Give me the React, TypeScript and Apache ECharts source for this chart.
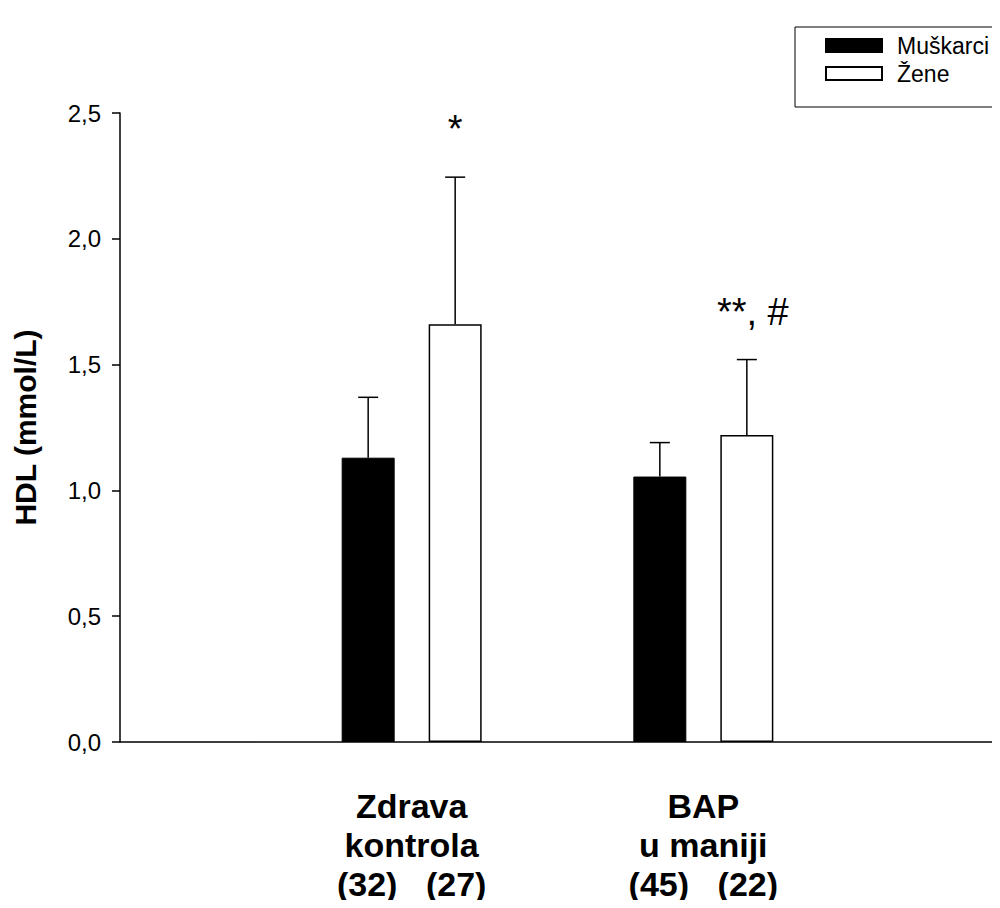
import React, { useEffect, useRef } from "react";
import * as echarts from "echarts";

// ---- data ----
const categories = ["", "Zdrava kontrola", "BAP u maniji", ""];
const groupLines = [["Zdrava", "kontrola"], ["BAP", "u maniji"]];
const nMen = [32, 45];
const nWomen = [27, 22];
const menMean = [1.13, 1.055];
const menSD = [0.24, 0.135];
const womenMean = [1.66, 1.22];
const womenSD = [0.585, 0.3];
const menNotes = ["", ""];
const womenNotes = ["*", "**, #"];
const seriesNames = ["Muškarci", "Žene"];
const yMin = 0;
const yMax = 2.5;
const yInterval = 0.5;

const FONT = "'Liberation Sans', Arial, Helvetica, sans-serif";
const BAR_W = 53;
const BAR_GAP = 34;

export default function App() {
  const ref = useRef<HTMLDivElement>(null);
  useEffect(() => {
    if (!ref.current) return;
    const chart = echarts.init(ref.current, undefined, { renderer: "svg" });
    const pad = (arr: number[]) => ["-", ...arr, "-"];
    const offset = (BAR_W + BAR_GAP) / 2;

    const errSeries = (
      means: number[],
      sds: number[],
      notes: string[],
      dir: number
    ) => ({
      type: "custom",
      silent: true,
      z: 5,
      clip: false,
      data: means.map((m, i) => [i + 1, m, sds[i]]),
      renderItem: (params: any, api: any) => {
        const idx = api.value(0);
        const m = api.value(1);
        const sd = api.value(2);
        const b = api.coord([idx, m]);
        const t = api.coord([idx, m + sd]);
        const x = b[0] + dir * offset;
        const note = notes[params.dataIndex];
        const children: any[] = [
          {
            type: "line",
            shape: { x1: x, y1: b[1], x2: x, y2: t[1] },
            style: { stroke: "#000", lineWidth: 1.5 },
          },
          {
            type: "line",
            shape: { x1: x - 10, y1: t[1], x2: x + 10, y2: t[1] },
            style: { stroke: "#000", lineWidth: 1.5 },
          },
        ];
        if (note) {
          children.push({
            type: "text",
            x: x + (note.length > 1 ? 6 : 0),
            y: t[1] - 29,
            style: {
              text: note,
              fontSize: 38,
              fontFamily: FONT,
              fill: "#000",
              align: "center",
              verticalAlign: "bottom",
            },
          });
        }
        return { type: "group", children };
      },
    });

    chart.setOption({
      animation: false,
      backgroundColor: "#fff",
      grid: { left: 120, right: 5, top: 113, bottom: 166 },
      legend: {
        data: seriesNames,
        orient: "vertical",
        left: 795,
        top: 27,
        icon: "rect",
        itemWidth: 56,
        itemHeight: 13,
        itemGap: 5,
        padding: [7, 6, 22, 30],
        borderColor: "#000",
        borderWidth: 1,
        selectedMode: false,
        textStyle: {
          fontSize: 23,
          lineHeight: 22,
          fontFamily: FONT,
          color: "#000",
          padding: [0, 0, 0, 10],
        },
      },
      xAxis: {
        type: "category",
        data: categories,
        boundaryGap: false,
        axisLine: { lineStyle: { color: "#000", width: 1.5 } },
        axisTick: { show: false },
        axisLabel: {
          interval: 0,
          margin: 44,
          formatter: (_v: string, i: number) => {
            const g = i - 1;
            if (g < 0 || g >= groupLines.length) return "";
            return (
              groupLines[g].map((l) => `{t|${l}}`).join("\n") +
              `\n{n|(${nMen[g]})}{n|(${nWomen[g]})}`
            );
          },
          rich: {
            t: {
              fontSize: 34,
              fontWeight: "bold",
              fontFamily: FONT,
              color: "#000",
              lineHeight: 39,
              align: "center",
            },
            n: {
              fontSize: 34,
              fontWeight: "bold",
              fontFamily: FONT,
              color: "#000",
              lineHeight: 39,
              width: 89,
              align: "center",
            },
          },
        },
        splitLine: { show: false },
      },
      yAxis: {
        type: "value",
        min: yMin,
        max: yMax,
        interval: yInterval,
        name: "HDL (mmol/L)",
        nameLocation: "middle",
        nameRotate: 90,
        nameGap: 80,
        nameTextStyle: {
          fontSize: 30,
          fontWeight: "bold",
          fontFamily: FONT,
          color: "#000",
        },
        axisLine: { show: true, lineStyle: { color: "#000", width: 1.5 } },
        axisTick: { show: true, length: 8, lineStyle: { color: "#000", width: 1.5 } },
        axisLabel: {
          margin: 19,
          fontSize: 24,
          fontFamily: FONT,
          color: "#000",
          formatter: (v: number) => v.toFixed(1).replace(".", ","),
        },
        splitLine: { show: false },
      },
      series: [
        {
          name: seriesNames[0],
          type: "bar",
          data: pad(menMean),
          barWidth: BAR_W,
          barGap: `${(BAR_GAP / BAR_W) * 100}%`,
          itemStyle: { color: "#000", borderColor: "#000", borderWidth: 1 },
          z: 3,
        },
        {
          name: seriesNames[1],
          type: "bar",
          data: pad(womenMean),
          barWidth: BAR_W,
          barGap: `${(BAR_GAP / BAR_W) * 100}%`,
          itemStyle: { color: "#fff", borderColor: "#000", borderWidth: 1.5 },
          z: 3,
        },
        errSeries(menMean, menSD, menNotes, -1),
        errSeries(womenMean, womenSD, womenNotes, 1),
      ],
    });
    return () => chart.dispose();
  }, []);
  return <div ref={ref} style={{ width: 1000, height: 908, margin: -8 }} />;
}
